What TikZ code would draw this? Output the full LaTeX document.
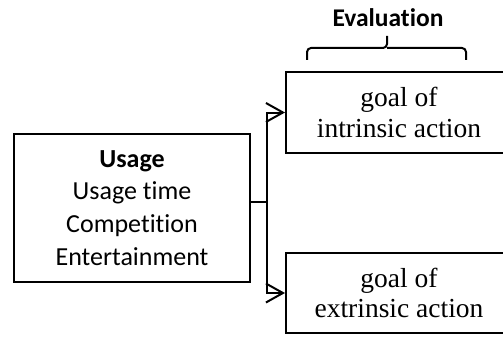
\documentclass[tikz,border=0pt]{standalone}
\usepackage{fontspec}
\setmainfont{Liberation Serif}
\newfontfamily\calfont[Ligatures=NoCommon]{Carlito}
\usetikzlibrary{arrows.meta}
\begin{document}
\begin{tikzpicture}[x=1pt,y=-1pt,
  box/.style={draw, line width=2pt, inner sep=0pt, align=center},
  sanslbl/.style={font=\calfont\fontsize{26}{32.7}\selectfont},
  seriflbl/.style={font=\fontsize{27.5}{30.5}\selectfont},
  conn/.style={line width=2pt, -{Straight Barb[length=17pt,width=19pt,line width=2pt]}}
]
\useasboundingbox (0,0) rectangle (503,337);
\begin{scope}
\clip (0,0) rectangle (503,337);
\node[box, sanslbl, minimum width=236pt, minimum height=148pt] (usage) at (132,208)
  {\textbf{Usage}\\Usage time\\Competition\\Entertainment};
\node[box, seriflbl, minimum width=226pt, minimum height=81pt] (intr) at (399,112.5)
  {goal of\\intrinsic action};
\node[box, seriflbl, minimum width=226pt, minimum height=80pt] (extr) at (399,293)
  {goal of\\extrinsic action};
\coordinate (split) at (267,202);
\draw[line width=2pt] (usage.east |- split) -- (split);
\draw[conn] (split) |- (intr.west);
\draw[conn] (split) |- (extr.west);
\draw[line width=2pt, rounded corners=4pt] (307,60) |- (387,48) -- (387,36);
\draw[line width=2pt, rounded corners=4pt] (387,48) -| (466,60);
\node[font=\calfont\bfseries\fontsize{25.5}{30}\selectfont] (eval) at (388,18) {Evaluation};
\end{scope}
\end{tikzpicture}
\end{document}
